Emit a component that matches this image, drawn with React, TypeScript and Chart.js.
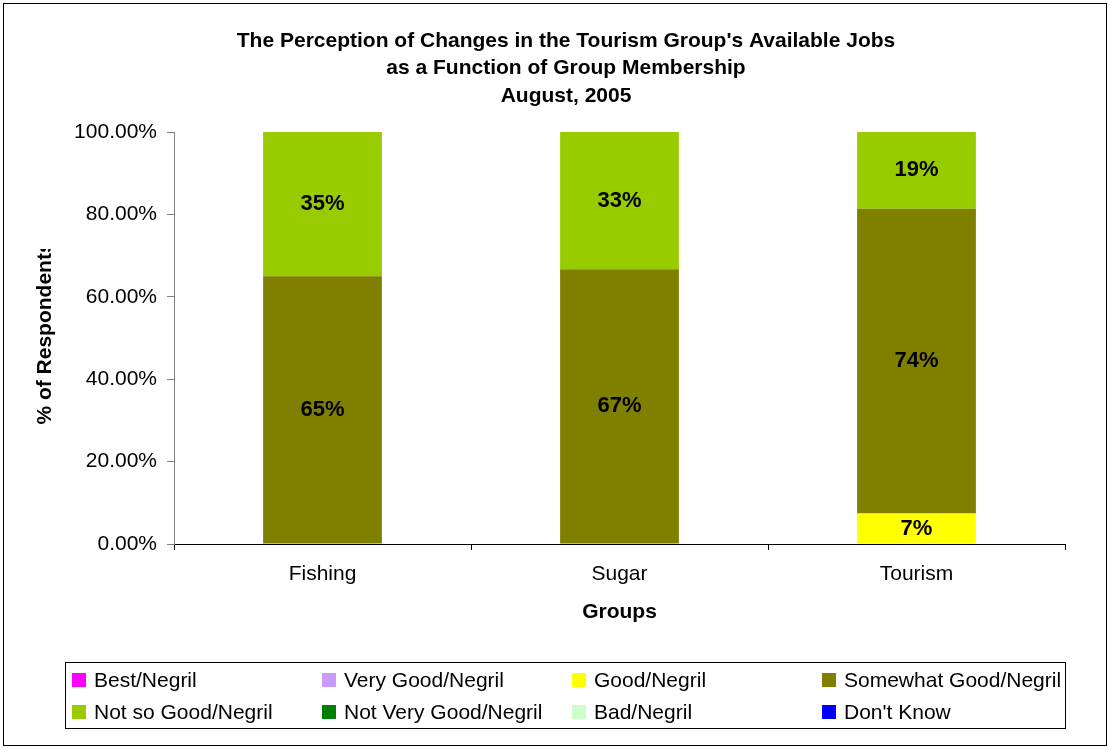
import { useEffect, useRef } from "react";
import { Chart, registerables } from "chart.js";

Chart.register(...registerables);

const categories = ["Fishing", "Sugar", "Tourism"];
const seriesLabels = [
  "Best/Negril",
  "Very Good/Negril",
  "Good/Negril",
  "Somewhat Good/Negril",
  "Not so Good/Negril",
  "Not Very Good/Negril",
  "Bad/Negril",
  "Don't Know",
];
const best = [0, 0, 0];
const veryGood = [0, 0, 0];
const good = [0, 0, 7.4];
const somewhatGood = [65.0, 66.7, 74.0];
const notSoGood = [35.0, 33.3, 18.6];
const notVeryGood = [0, 0, 0];
const bad = [0, 0, 0];
const dontKnow = [0, 0, 0];
const seriesValues = [best, veryGood, good, somewhatGood, notSoGood, notVeryGood, bad, dontKnow];
const seriesColors = ["#FF00FF", "#CC99FF", "#FFFF00", "#808000", "#99CC00", "#008000", "#CCFFCC", "#0000FF"];
const titleLines = [
  "The Perception of Changes in the Tourism Group's Available Jobs",
  "as a Function of Group Membership",
  "August, 2005",
];
const yTitle = "% of Respondents";
const xTitle = "Groups";

const FONT = "'Liberation Sans', Arial, sans-serif";

export default function App() {
  const ref = useRef<HTMLCanvasElement>(null);

  useEffect(() => {
    document.body.style.margin = "0";
    const canvas = ref.current;
    if (!canvas) return;

    const decorations = {
      id: "decorations",
      afterDatasetsDraw(chart: any) {
        const ctx = chart.ctx;
        ctx.save();
        ctx.fillStyle = "#000";
        ctx.font = `bold 22px ${FONT}`;
        ctx.textAlign = "center";
        ctx.textBaseline = "middle";
        chart.data.datasets.forEach((ds: any, di: number) => {
          const meta = chart.getDatasetMeta(di);
          meta.data.forEach((el: any, i: number) => {
            const v = ds.data[i];
            if (!v) return;
            const y = (el.y + el.base) / 2;
            ctx.fillText(Math.round(v) + "%", el.x, y);
          });
        });
        ctx.restore();
      },
      afterDraw(chart: any) {
        const ctx = chart.ctx;
        ctx.save();
        // outer border
        ctx.strokeStyle = "#000";
        ctx.lineWidth = 1;
        ctx.strokeRect(3.5, 3.5, 1103, 742);

        // title
        ctx.fillStyle = "#000";
        ctx.font = `bold 21px ${FONT}`;
        ctx.textAlign = "center";
        ctx.textBaseline = "middle";
        titleLines.forEach((t, i) => ctx.fillText(t, 566, 41 + i * 27.5));

        // y-axis title (clipped at top like the original)
        ctx.save();
        ctx.beginPath();
        ctx.rect(0, 249, 174, 500);
        ctx.clip();
        ctx.translate(45, 333);
        ctx.rotate(-Math.PI / 2);
        ctx.font = `bold 21px ${FONT}`;
        ctx.fillText(yTitle, 0, 0);
        ctx.restore();

        // legend
        ctx.strokeStyle = "#000";
        ctx.strokeRect(65.5, 662.5, 1000, 66);
        ctx.font = `21px ${FONT}`;
        ctx.textAlign = "left";
        ctx.textBaseline = "middle";
        chart.data.datasets.forEach((ds: any, i: number) => {
          const col = i % 4;
          const row = Math.floor(i / 4);
          const x = 72 + col * 250;
          const cy = 680 + row * 32;
          ctx.fillStyle = ds.backgroundColor;
          ctx.fillRect(x, cy - 7, 14, 14);
          ctx.fillStyle = "#000";
          ctx.fillText(ds.label, x + 22, cy + 1);
        });
        ctx.restore();
      },
    };

    const chart = new Chart(canvas, {
      type: "bar",
      data: {
        labels: categories,
        datasets: seriesLabels.map((label, i) => ({
          label,
          data: seriesValues[i],
          backgroundColor: seriesColors[i],
          borderWidth: 0,
          barPercentage: 1,
          categoryPercentage: 0.4,
        })),
      },
      options: {
        responsive: false,
        animation: false,
        devicePixelRatio: 1,
        layout: { padding: { top: 132, right: 45, bottom: 119, left: 0 } },
        plugins: {
          legend: { display: false },
          title: { display: false },
          tooltip: { enabled: false },
        },
        scales: {
          x: {
            stacked: true,
            afterFit: (s: any) => {
              s.height = 86;
            },
            border: { color: "#000", width: 1 },
            grid: { offset: true, drawOnChartArea: false, color: "#000", tickLength: 6 },
            ticks: { color: "#000", font: { family: FONT, size: 21 }, padding: 12 },
            title: {
              display: true,
              text: xTitle,
              color: "#000",
              font: { family: FONT, size: 21, weight: "bold" },
              padding: { top: 0, bottom: 5 },
            },
          },
          y: {
            stacked: true,
            min: 0,
            max: 100,
            afterFit: (s: any) => {
              s.width = 174;
            },
            border: { color: "#808080", width: 1 },
            grid: { drawOnChartArea: false, color: "#808080", tickLength: 7 },
            ticks: {
              stepSize: 20,
              color: "#000",
              font: { family: FONT, size: 21 },
              padding: 10,
              callback: (v: any) => Number(v).toFixed(2) + "%",
            },
          },
        },
      },
      plugins: [decorations],
    });

    return () => chart.destroy();
  }, []);

  return <canvas ref={ref} width={1110} height={749} style={{ display: "block" }} />;
}
